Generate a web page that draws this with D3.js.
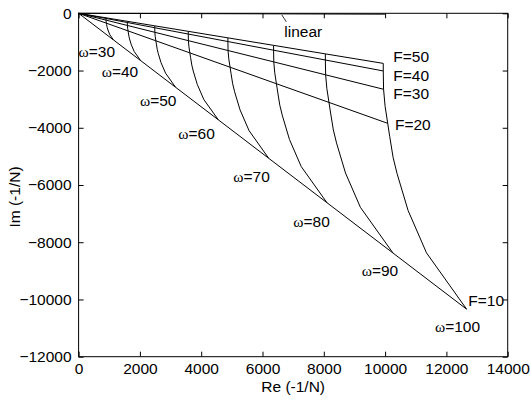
<!DOCTYPE html>
<html>
<head>
<meta charset="utf-8">
<script src="https://cdn.jsdelivr.net/npm/d3@7"></script>
<style>
  html, body { margin: 0; padding: 0; background: #fff; }
  svg { display: block; }
  text { font-family: "Liberation Sans", Arial, sans-serif; fill: #000; }
</style>
</head>
<body>
<svg id="chart" width="531" height="405"></svg>
<script>
// Axis ticks
const xTicks = [0, 2000, 4000, 6000, 8000, 10000, 12000, 14000];
const yTicks = [0, -2000, -4000, -6000, -8000, -10000, -12000];

// Frequencies of the constant-omega curves
const omegas = [30, 40, 50, 60, 70, 80, 90, 100];

// Force levels and the index of each level along every omega curve
const forceLevels = [50, 40, 30, 20, 10];
const forceIndex = [0, 1, 2, 4, 10];

// -1/N points [Re, Im] along each omega curve, from F=50 down to F=10
const w30 = [[895, -158], [895, -181], [896, -239], [900, -293], [908, -346], [914, -387], [923, -453], [935, -504], [968, -620], [1022, -753], [1139, -931]];
const w40 = [[1590, -280], [1590, -322], [1592, -425], [1600, -520], [1614, -615], [1624, -688], [1642, -805], [1662, -896], [1720, -1102], [1816, -1339], [2026, -1654]];
const w50 = [[2485, -438], [2485, -504], [2488, -664], [2500, -813], [2521, -961], [2538, -1075], [2565, -1258], [2598, -1400], [2688, -1723], [2838, -2093], [3165, -2585]];
const w60 = [[3578, -630], [3578, -725], [3582, -956], [3600, -1170], [3631, -1384], [3654, -1548], [3694, -1811], [3740, -2016], [3870, -2480], [4086, -3013], [4558, -3722]];
const w70 = [[4871, -858], [4871, -987], [4876, -1301], [4900, -1593], [4942, -1884], [4974, -2107], [5027, -2465], [5091, -2744], [5268, -3376], [5562, -4101], [6203, -5067]];
const w80 = [[6362, -1120], [6362, -1290], [6368, -1699], [6400, -2080], [6454, -2461], [6496, -2752], [6566, -3219], [6650, -3584], [6880, -4410], [7264, -5357], [8102, -6618]];
const w90 = [[8051, -1418], [8051, -1632], [8060, -2151], [8100, -2633], [8169, -3114], [8222, -3483], [8311, -4074], [8416, -4536], [8708, -5581], [9194, -6780], [10255, -8375]];
const w100 = [[9940, -1750], [9940, -2015], [9950, -2655], [10000, -3250], [10085, -3845], [10150, -4300], [10260, -5030], [10390, -5600], [10750, -6890], [11350, -8370], [12660, -10340]];

// Linear system locus
const linearLocus = [[0, 0], [10000, -30]];

// Text annotations placed in data coordinates
const omegaLabels = [
  { w: 30, at: [0, -1510] },
  { w: 40, at: [754, -2215] },
  { w: 50, at: [2003, -3239] },
  { w: 60, at: [3253, -4403] },
  { w: 70, at: [5047, -5884] },
  { w: 80, at: [7005, -7477] },
  { w: 90, at: [9237, -9179] },
  { w: 100, at: [11628, -11125] }
];
const forceLabels = [
  { f: 50, at: [10268, -1691] },
  { f: 40, at: [10268, -2355] },
  { f: 30, at: [10268, -3005] },
  { f: 20, at: [10323, -4067] },
  { f: 10, at: [12714, -10227] }
];

const curves = [w30, w40, w50, w60, w70, w80, w90, w100].map((pts, i) => ({ omega: omegas[i], pts }));

const svg = d3.select("#chart");
const x = d3.scaleLinear().domain([0, 14000]).range([78.6, 507.7]);
const y = d3.scaleLinear().domain([-12000, 0]).range([356.7, 13.3]);
const fontSize = 15.5;

const line = d3.line().x(d => x(d[0])).y(d => y(d[1]));

const plot = svg.append("g")
  .attr("fill", "none")
  .attr("stroke", "#000")
  .attr("stroke-width", 1);

// Constant-omega curves
plot.selectAll("path.omega")
  .data(curves)
  .join("path")
  .attr("class", "omega")
  .attr("d", d => line(d.pts));

// Constant-force lines through the origin
plot.selectAll("path.force")
  .data(forceLevels.map((f, i) => ({ f, pts: [[0, 0]].concat(curves.map(c => c.pts[forceIndex[i]])) })))
  .join("path")
  .attr("class", "force")
  .attr("d", d => line(d.pts));

// Linear locus
plot.append("path").attr("d", line(linearLocus));

// Axes (ticks point inward)
const xAxis = d3.axisBottom(x).tickValues(xTicks).tickSizeInner(-5).tickSizeOuter(0).tickPadding(6).tickFormat(d3.format("d"));
const yAxis = d3.axisLeft(y).tickValues(yTicks).tickSizeInner(-5).tickSizeOuter(0).tickPadding(7).tickFormat(d3.format("d"));
const xTop = d3.axisTop(x).tickValues(xTicks).tickSizeInner(-5).tickSizeOuter(0).tickFormat("");
const yRight = d3.axisRight(y).tickValues(yTicks).tickSizeInner(-5).tickSizeOuter(0).tickFormat("");

function styleAxis(g) {
  g.select(".domain").remove();
  g.selectAll("line").attr("stroke", "#000").attr("stroke-width", 1);
  g.selectAll("text").attr("font-size", fontSize).attr("font-family", "Liberation Sans, Arial, sans-serif").attr("fill", "#000");
}

svg.append("g").attr("transform", `translate(0,${y(-12000)})`).call(xAxis).call(styleAxis);
svg.append("g").attr("transform", `translate(${x(0)},0)`).call(yAxis).call(styleAxis);
svg.append("g").attr("transform", `translate(0,${y(0)})`).call(xTop).call(styleAxis);
svg.append("g").attr("transform", `translate(${x(14000)},0)`).call(yRight).call(styleAxis);

// Frame
svg.append("rect")
  .attr("x", x(0)).attr("y", y(0))
  .attr("width", x(14000) - x(0)).attr("height", y(-12000) - y(0))
  .attr("fill", "none").attr("stroke", "#000").attr("stroke-width", 1);

// Omega annotations
const wl = svg.append("g").attr("font-size", fontSize);
omegaLabels.forEach(l => {
  const t = wl.append("text").attr("x", x(l.at[0])).attr("y", y(l.at[1]));
  t.append("tspan").attr("font-family", "Liberation Serif, Times New Roman, serif").text("ω");
  t.append("tspan").text("=" + l.w);
});

// Force annotations
wl.selectAll("text.flabel")
  .data(forceLabels)
  .join("text")
  .attr("class", "flabel")
  .attr("x", d => x(d.at[0]))
  .attr("y", d => y(d.at[1]))
  .text(d => "F=" + d.f);

// Linear annotation with leader
const linAnchor = [6630, -20];
svg.append("line")
  .attr("x1", x(linAnchor[0])).attr("y1", y(linAnchor[1]) + 1)
  .attr("x2", x(linAnchor[0]) + 4.5).attr("y2", y(linAnchor[1]) + 8)
  .attr("stroke", "#000").attr("stroke-width", 0.8);
wl.append("text").attr("x", x(6711)).attr("y", y(-811)).text("linear");

// Axis titles
svg.append("text")
  .attr("x", (x(0) + x(14000)) / 2).attr("y", 392)
  .attr("text-anchor", "middle").attr("font-size", fontSize)
  .text("Re (-1/N)");
svg.append("text")
  .attr("transform", `translate(20,197) rotate(-90)`)
  .attr("text-anchor", "middle").attr("font-size", fontSize)
  .text("Im (-1/N)");
</script>
</body>
</html>
